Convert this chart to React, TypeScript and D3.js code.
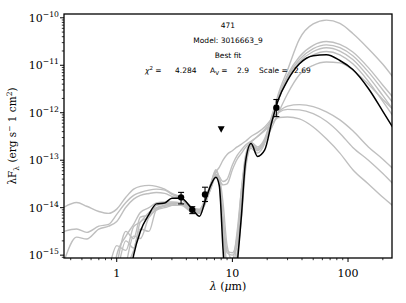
import React from "react";
import * as d3 from "d3";

// wavelength grid (micron) shared by all model SEDs
const wavelengths = [0.35, 0.45, 0.55, 0.7, 0.85, 1.0, 1.2, 1.4, 1.6, 1.9, 2.2, 2.6, 3.0, 3.6, 4.5, 5.2, 5.8, 6.5, 7.2, 7.7, 8.3, 9.0, 10, 11, 12, 13, 14.5, 16.5, 19, 22, 25, 30, 38, 50, 65, 85, 110, 150, 200, 250];

// log10(lambda F_lambda) of the best fit model
const bestFit = [-16, -16, -16, -16, -16, -16, -16, -15.0, -14.5, -14.14, -13.92, -13.9, -13.8, -13.8, -14.03, -14.18, -13.87, -13.53, -13.36, -13.53, -14.87, -16, -16, -15.19, -14.14, -13.03, -12.65, -12.92, -12.79, -12.18, -11.72, -11.32, -10.97, -10.8, -10.78, -10.9, -11.09, -11.49, -11.97, -12.35];

// other good fits (grey)
const fitG1 = [-13.99, -13.89, -13.97, -14.08, -14.12, -14.03, -13.78, -13.61, -13.55, -13.53, -13.55, -13.61, -13.7, -13.78, -13.99, -14.05, -13.93, -13.55, -13.25, -13.15, -13.0, -12.88, -12.8, -12.72, -12.66, -12.6, -12.5, -12.42, -12.3, -12.12, -11.98, -11.86, -11.83, -11.87, -11.98, -12.15, -12.38, -12.72, -12.98, -13.2];
const fitG2 = [-14.5, -14.45, -14.52, -14.39, -14.35, -14.14, -13.89, -13.74, -13.68, -13.63, -13.61, -13.63, -13.72, -13.8, -14.01, -14.03, -13.82, -13.5, -13.22, -13.4, -13.52, -13.5, -13.2, -12.98, -12.85, -12.73, -12.62, -12.5, -12.35, -12.15, -12.0, -11.93, -11.94, -12.02, -12.18, -12.43, -12.73, -13.0, -13.28, -13.52];
const fitG3 = [-15.13, -14.62, -14.66, -14.45, -14.39, -14.29, -13.99, -13.82, -13.74, -13.7, -13.68, -13.7, -13.76, -13.82, -14.03, -14.05, -13.85, -13.55, -13.3, -13.35, -13.45, -13.4, -13.1, -12.9, -12.78, -12.68, -12.6, -12.5, -12.38, -12.22, -12.1, -12.09, -12.13, -12.3, -12.55, -12.85, -13.2, -13.5, -13.78, -13.98];
const fitT1 = [-16, -16, -16, -16, -16, -15.0, -14.6, -14.35, -14.1, -14.0, -13.9, -13.88, -13.88, -13.9, -14.05, -14.1, -13.85, -13.5, -13.3, -13.5, -14.5, -15.3, -15.4, -15.0, -14.0, -13.1, -12.7, -12.8, -12.6, -12.1, -11.6, -11.1, -10.45, -10.13, -10.05, -10.12, -10.33, -10.65, -10.98, -11.28];
const fitH2 = [-16, -16, -16, -16, -16, -15.2, -14.5, -14.65, -14.2, -14.15, -13.95, -13.92, -13.9, -13.92, -14.08, -14.1, -13.9, -13.55, -13.3, -13.45, -14.3, -14.95, -15.0, -14.8, -13.8, -13.0, -12.68, -12.78, -12.6, -12.05, -11.65, -11.2, -10.82, -10.58, -10.5, -10.56, -10.72, -11.05, -11.42, -11.7];
const fitH3 = [-16, -16, -16, -16, -15.3, -14.8, -14.9, -14.4, -14.3, -14.1, -14.0, -13.95, -13.92, -13.9, -14.05, -14.05, -13.85, -13.5, -13.2, -13.4, -14.2, -14.9, -14.95, -14.6, -13.6, -12.9, -12.62, -12.72, -12.55, -12.08, -11.68, -11.24, -10.88, -10.65, -10.57, -10.63, -10.8, -11.14, -11.52, -11.82];
const fitH4 = [-16, -16, -16, -16, -16, -16, -15.2, -14.6, -14.65, -14.2, -14.05, -13.95, -13.92, -13.9, -14.02, -14.08, -13.88, -13.6, -13.35, -13.5, -14.4, -15.3, -15.4, -15.0, -14.2, -13.2, -12.75, -12.85, -12.65, -12.1, -11.7, -11.28, -10.93, -10.71, -10.63, -10.7, -10.88, -11.24, -11.64, -11.96];
const fitH5 = [-16, -16, -16, -16, -16, -15.4, -14.7, -14.85, -14.3, -14.2, -14.02, -13.97, -13.95, -13.95, -14.1, -14.12, -13.92, -13.6, -13.32, -13.45, -14.3, -15.2, -15.25, -14.7, -13.7, -12.95, -12.65, -12.75, -12.58, -12.12, -11.72, -11.3, -10.97, -10.78, -10.71, -10.78, -10.97, -11.34, -11.76, -12.1];
const fitL1 = [-16, -16, -16, -16, -16, -16, -15.3, -14.9, -14.45, -14.5, -14.05, -14.0, -13.95, -13.9, -14.05, -14.1, -13.9, -13.55, -13.25, -13.35, -13.9, -14.8, -15.1, -14.5, -13.6, -13.0, -12.72, -12.75, -12.6, -12.3, -12.0, -11.6, -11.2, -11.0, -10.93, -10.95, -11.1, -11.4, -11.72, -11.95];
const greyFits = [fitG1, fitG2, fitG3, fitT1, fitH2, fitH3, fitH4, fitH5, fitL1];

// photometry
const obsWave = [3.6, 4.5, 5.8, 24];
const obsFlux = [1.65e-14, 9.0e-15, 1.9e-14, 1.27e-12];
const obsLow = [1.2e-14, 7.5e-15, 1.35e-14, 8.3e-13];
const obsHigh = [2.1e-14, 1.05e-14, 2.7e-14, 1.9e-12];
const limWave = [8.0];
const limFlux = [4.5e-13];

const yMajor = [-15, -14, -13, -12, -11, -10];
const xMajor = [1, 10, 100];

const W = 406;
const H = 303;
const L = 64, R = 392, T = 14, B = 258;

export default function App() {
  const x = d3.scaleLog().domain([0.35, 240]).range([L, R]);
  const y = d3.scaleLog().domain([Math.pow(10, -15.06), Math.pow(10, -9.92)]).range([B, T]);

  const line = d3
    .line<number>()
    .x((_, i) => x(wavelengths[i]))
    .y((d) => y(Math.pow(10, d)))
    .curve(d3.curveMonotoneX);

  const yMinor: number[] = [];
  for (let e = -16; e <= -10; e++)
    for (let k = 2; k <= 9; k++) {
      const v = k * Math.pow(10, e);
      if (v > y.domain()[0] && v < y.domain()[1]) yMinor.push(v);
    }
  const xMinor: number[] = [];
  for (let e = -1; e <= 2; e++)
    for (let k = 2; k <= 9; k++) {
      const v = k * Math.pow(10, e);
      if (v > 0.35 && v < 240) xMinor.push(v);
    }

  const serif = "DejaVu Serif";
  const sans = "DejaVu Sans";
  const grey = "#bfbfbf";

  return (
    <svg width={W} height={H} style={{ position: "absolute", left: 0, top: 0, background: "#fff" }}>
      <defs>
        <clipPath id="plot">
          <rect x={L} y={T} width={R - L} height={B - T} />
        </clipPath>
      </defs>

      <g clipPath="url(#plot)">
        {greyFits.map((f, i) => (
          <path key={i} d={line(f) || ""} fill="none" stroke={grey} strokeWidth={1.4} />
        ))}
        <path d={line(bestFit) || ""} fill="none" stroke="#000" strokeWidth={1.5} />
      </g>

      {/* photometry with error bars */}
      {obsWave.map((w, i) => (
        <g key={i}>
          <line x1={x(w)} x2={x(w)} y1={y(obsLow[i])} y2={y(obsHigh[i])} stroke="#000" strokeWidth={1.1} />
          <line x1={x(w) - 3} x2={x(w) + 3} y1={y(obsLow[i])} y2={y(obsLow[i])} stroke="#000" strokeWidth={1.1} />
          <line x1={x(w) - 3} x2={x(w) + 3} y1={y(obsHigh[i])} y2={y(obsHigh[i])} stroke="#000" strokeWidth={1.1} />
          <circle cx={x(w)} cy={y(obsFlux[i])} r={3.2} fill="#000" />
        </g>
      ))}
      {limWave.map((w, i) => (
        <path
          key={i}
          d={`M${x(w) - 3.5},${y(limFlux[i]) - 3} L${x(w) + 3.5},${y(limFlux[i]) - 3} L${x(w)},${y(limFlux[i]) + 3.5} Z`}
          fill="#000"
        />
      ))}

      {/* frame */}
      <rect x={L} y={T} width={R - L} height={B - T} fill="none" stroke="#000" strokeWidth={1.3} />

      {/* y axis */}
      {yMajor.map((e) => (
        <g key={e}>
          <line x1={L - 4} x2={L} y1={y(Math.pow(10, e))} y2={y(Math.pow(10, e))} stroke="#000" strokeWidth={1} />
          <text x={59} y={y(Math.pow(10, e)) + 4} textAnchor="end" fontFamily={serif} fontSize={11}>
            <tspan>10</tspan>
            <tspan dy={-5} fontSize={7.7}>{"\u2212" + Math.abs(e)}</tspan>
          </text>
        </g>
      ))}
      {yMinor.map((v, i) => (
        <line key={i} x1={L - 2.2} x2={L} y1={y(v)} y2={y(v)} stroke="#000" strokeWidth={0.8} />
      ))}

      {/* x axis */}
      {xMajor.map((v) => (
        <g key={v}>
          <line x1={x(v)} x2={x(v)} y1={B} y2={B + 4} stroke="#000" strokeWidth={1} />
          <text x={x(v)} y={277} textAnchor="middle" fontFamily={serif} fontSize={11}>
            {v}
          </text>
        </g>
      ))}
      {xMinor.map((v, i) => (
        <line key={i} x1={x(v)} x2={x(v)} y1={B} y2={B + 2.2} stroke="#000" strokeWidth={0.8} />
      ))}

      <text x={(L + R) / 2} y={290} textAnchor="middle" fontFamily={serif} fontSize={11}>
        <tspan fontStyle="italic">λ</tspan> (<tspan fontStyle="italic">μ</tspan>m)
      </text>
      <text transform={`translate(16,${(T + B) / 2}) rotate(-90)`} textAnchor="middle" fontFamily={serif} fontSize={10.5}>
        λF<tspan dy={2.5} fontSize={7.5}>λ</tspan>
        <tspan dy={-2.5}> (erg s</tspan>
        <tspan dy={-4} fontSize={7.5}>−</tspan>
        <tspan dy={4}> 1 cm</tspan>
        <tspan dy={-4} fontSize={7.5}>2</tspan>
        <tspan dy={4}>)</tspan>
      </text>

      {/* annotations */}
      <g fontFamily={sans} fontSize={7.5}>
        <text x={228} y={28} textAnchor="middle">471</text>
        <text x={228} y={43} textAnchor="middle">Model: 3016663_9</text>
        <text x={228} y={58} textAnchor="middle">Best fit</text>
        <text x={145} y={73}>
          <tspan fontStyle="italic">χ</tspan>
          <tspan dy={-3} fontSize={5.5}>2</tspan>
          <tspan dy={3}> =</tspan>
        </text>
        <text x={175} y={73}>4.284</text>
        <text x={210} y={73}>
          A<tspan dy={1.5} fontSize={5.5}>V</tspan>
          <tspan dy={-1.5}> =</tspan>
        </text>
        <text x={237} y={73}>2.9</text>
        <text x={259} y={73}>Scale =</text>
        <text x={294} y={73}>2.69</text>
      </g>
    </svg>
  );
}
